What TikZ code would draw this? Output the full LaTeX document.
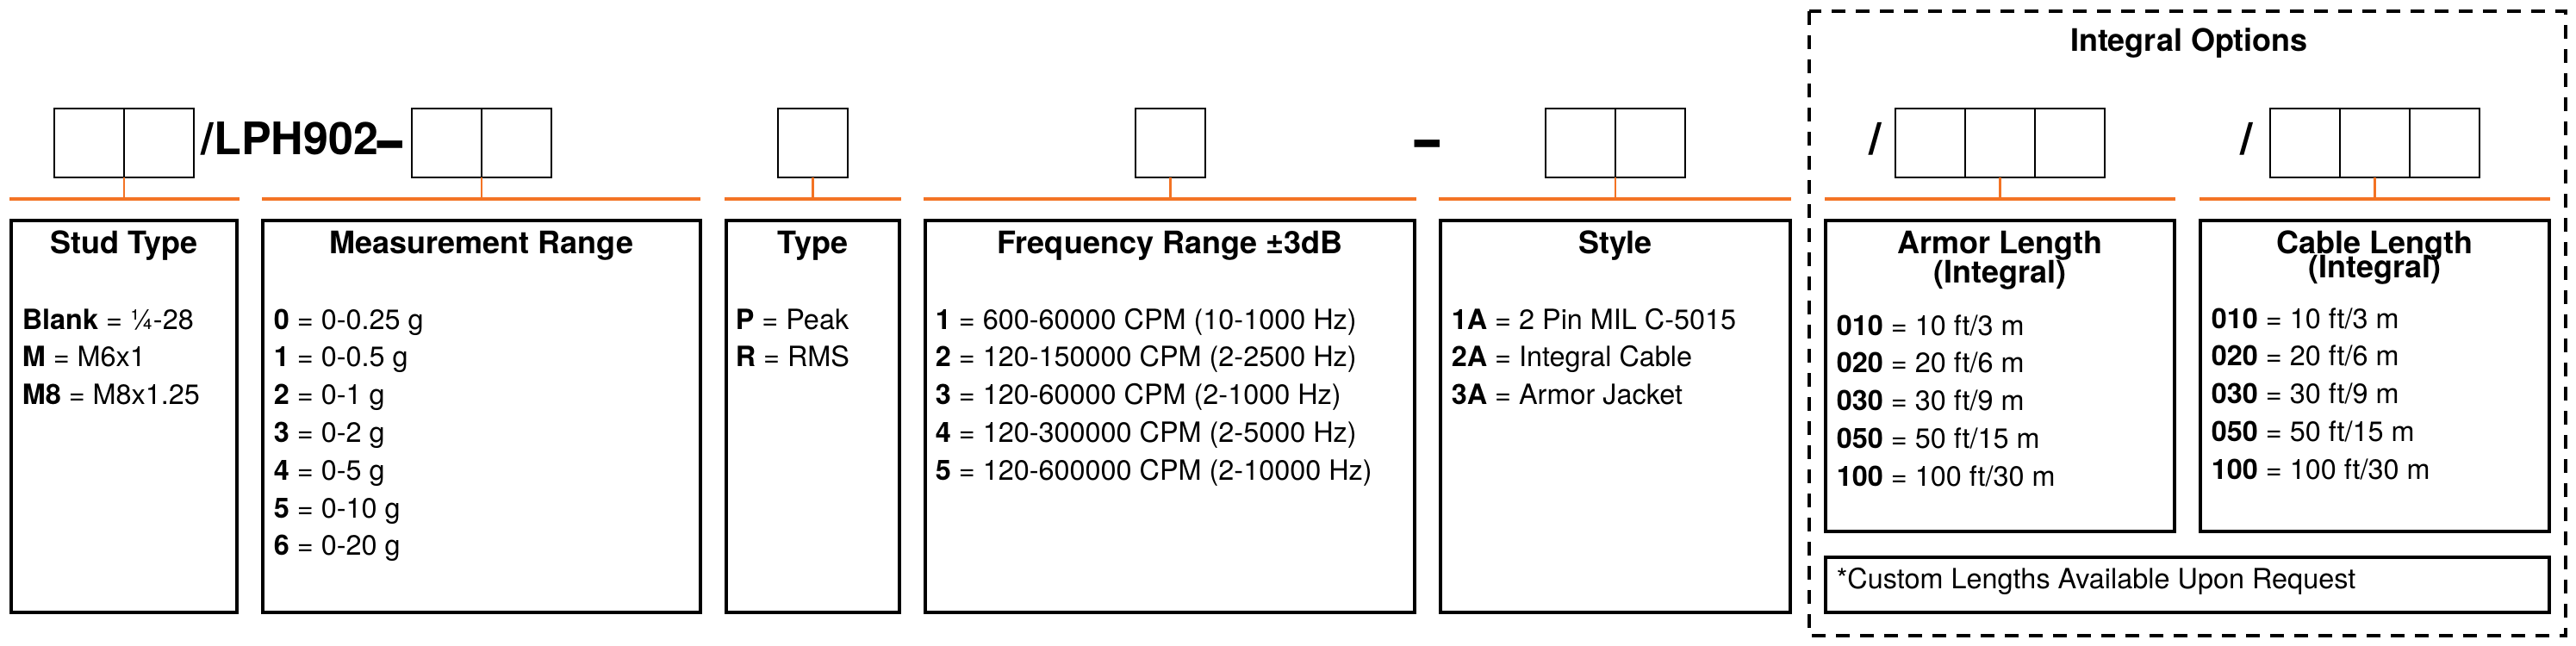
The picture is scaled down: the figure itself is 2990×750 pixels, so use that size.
\documentclass[tikz,border=0pt]{standalone}
\usepackage{graphicx}
\usepackage{fontspec}
\setmainfont{TeX Gyre Heros}
\definecolor{ora}{RGB}{243,115,36}
\newcommand\thickdash[1]{\raisebox{#1}{\scalebox{1}[1.6]{–}}}
\begin{document}
\begin{tikzpicture}[x=0.25pt,y=-0.25pt,
  cell/.style={draw=black, line width=0.5pt, minimum width=20.25pt, minimum height=20pt, inner sep=0pt, outer sep=0pt},
  ibox/.style={draw=black, line width=0.9pt},
  oline/.style={draw=ora, line width=0.9pt},
  otick/.style={draw=ora, line width=0.65pt},
  dbox/.style={draw=black, line width=0.85pt, dash pattern=on 4pt off 3pt},
  ttl/.style={font=\fontsize{9}{11}\selectfont\bfseries, inner sep=0pt, anchor=base},
  bdy/.style={font=\fontsize{8.1}{10}\selectfont, inner sep=0pt, anchor=base west},
  big/.style={font=\fontsize{13}{15}\selectfont\bfseries, inner sep=0pt, anchor=base west},
]
\useasboundingbox (0,0) rectangle (2990,750);

% ---------- entry cells ----------
\node[cell] (st1) at (103.5,166) {};
\node[cell] (st2) at (184.5,166) {};
\node[cell] (me1) at (518.5,166) {};
\node[cell] (me2) at (599.5,166) {};
\node[cell] (ty1) at (943.5,166) {};
\node[cell] (fr1) at (1358.5,166) {};
\node[cell] (sy1) at (1834.5,166) {};
\node[cell] (sy2) at (1915.5,166) {};
\node[cell] (ar1) at (2240.5,166) {};
\node[cell] (ar2) at (2321.5,166) {};
\node[cell] (ar3) at (2402.5,166) {};
\node[cell] (ca1) at (2675.5,166) {};
\node[cell] (ca2) at (2756.5,166) {};
\node[cell] (ca3) at (2837.5,166) {};

% ---------- code text ----------
\node[big] (lph) at (233,180) {/LPH902\thickdash{-2.4pt}};
\node[big, anchor=base] (dash) at (1657,180) {\thickdash{-2pt}};
\node[big, anchor=base] (slA) at (2177,180) {/};
\node[big, anchor=base] (slC) at (2608,180) {/};

% ---------- orange lines ----------
\coordinate (stA) at (11,231);   \coordinate (stB) at (278,231);
\coordinate (meA) at (304,231);  \coordinate (meB) at (813,231);
\coordinate (tyA) at (841,231);  \coordinate (tyB) at (1046,231);
\coordinate (frA) at (1072,231); \coordinate (frB) at (1644,231);
\coordinate (syA) at (1670,231); \coordinate (syB) at (2079,231);
\coordinate (arA) at (2118,231); \coordinate (arB) at (2525,231);
\coordinate (caA) at (2553,231); \coordinate (caB) at (2960,231);
\foreach \p in {st,me,ty,fr,sy,ar,ca} \draw[oline] (\p A) -- (\p B);

\draw[otick] (st1.south east) -- (st1.south east |- stA);
\draw[otick] (me1.south east) -- (me1.south east |- meA);
\draw[otick] (ty1.south) -- (ty1.south |- tyA);
\draw[otick] (fr1.south) -- (fr1.south |- frA);
\draw[otick] (sy1.south east) -- (sy1.south east |- syA);
\draw[otick] (ar2.south) -- (ar2.south |- arA);
\draw[otick] (ca2.south) -- (ca2.south |- caA);

% ---------- info boxes ----------
\draw[ibox] (13,256) rectangle (275,711);
\draw[ibox] (305,256) rectangle (813,711);
\draw[ibox] (843,256) rectangle (1044,711);
\draw[ibox] (1074,256) rectangle (1642,711);
\draw[ibox] (1672,256) rectangle (2078,711);
\draw[ibox] (2119,256) rectangle (2524,617);
\draw[ibox] (2554,256) rectangle (2959,617);
\draw[ibox] (2119,647) rectangle (2959,711);

% dashed group
\draw[dbox] (2100,13) rectangle (2978,738);
\node[ttl] (intopt) at (2541,60) {Integral Options};

% ---------- titles ----------
\node[ttl] (tStud) at (144,294) {Stud Type};
\node[ttl] (tMeas) at (559,294) {Measurement Range};
\node[ttl] (tType) at (943.5,294) {Type};
\node[ttl] (tFreq) at (1358,294) {Frequency Range ±3dB};
\node[ttl] (tStyle) at (1875,294) {Style};
\node[ttl] (tArm) at (2321.5,294) {Armor Length};
\node[ttl] (tArm2) at (2321.5,328) {(Integral)};
\node[ttl] (tCab) at (2756.5,294) {Cable Length};
\node[ttl] (tCab2) at (2756.5,322) {(Integral)};

% ---------- bodies ----------
\foreach \t [count=\i from 0] in {{\textbf{Blank} = ¼-28},{\textbf{M} = M6x1},{\textbf{M8} = M8x1.25}}
  \node[bdy] (stl\i) at (25,{382+43.8*\i}) {\t};
\foreach \t [count=\i from 0] in {{\textbf{0} = 0-0.25 g},{\textbf{1} = 0-0.5 g},{\textbf{2} = 0-1 g},{\textbf{3} = 0-2 g},{\textbf{4} = 0-5 g},{\textbf{5} = 0-10 g},{\textbf{6} = 0-20 g}}
  \node[bdy] (mel\i) at (317,{382+43.8*\i}) {\t};
\foreach \t [count=\i from 0] in {{\textbf{P} = Peak},{\textbf{R} = RMS}}
  \node[bdy] (tyl\i) at (853,{382+43.8*\i}) {\t};
\foreach \t [count=\i from 0] in {{\textbf{1} = 600-60000 CPM (10-1000 Hz)},{\textbf{2} = 120-150000 CPM (2-2500 Hz)},{\textbf{3} = 120-60000 CPM (2-1000 Hz)},{\textbf{4} = 120-300000 CPM (2-5000 Hz)},{\textbf{5} = 120-600000 CPM (2-10000 Hz)}}
  \node[bdy] (frl\i) at (1085,{382+43.8*\i}) {\t};
\foreach \t [count=\i from 0] in {{\textbf{1A} = 2 Pin MIL C-5015},{\textbf{2A} = Integral Cable},{\textbf{3A} = Armor Jacket}}
  \node[bdy] (syl\i) at (1684,{382+43.8*\i}) {\t};
\foreach \t [count=\i from 0] in {{\textbf{010} = 10 ft/3 m},{\textbf{020} = 20 ft/6 m},{\textbf{030} = 30 ft/9 m},{\textbf{050} = 50 ft/15 m},{\textbf{100} = 100 ft/30 m}}
  \node[bdy] (arl\i) at (2131,{389+43.8*\i}) {\t};
\foreach \t [count=\i from 0] in {{\textbf{010} = 10 ft/3 m},{\textbf{020} = 20 ft/6 m},{\textbf{030} = 30 ft/9 m},{\textbf{050} = 50 ft/15 m},{\textbf{100} = 100 ft/30 m}}
  \node[bdy] (cal\i) at (2566,{381+43.8*\i}) {\t};
\node[bdy] (custom) at (2131,683) {*Custom Lengths Available Upon Request};
\end{tikzpicture}
\end{document}
